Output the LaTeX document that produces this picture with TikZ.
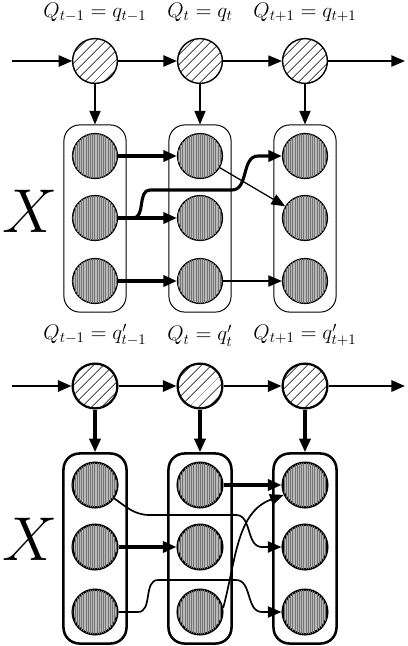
\RequirePackage{fix-cm}
\documentclass[tikz,border=0pt]{standalone}
\usepackage{tikz}
\usetikzlibrary{positioning,arrows.meta,fit,patterns.meta}
\tikzset{
    qnode/.style={
        circle, draw, line width=1pt, minimum size=11.2mm, inner sep=0pt,
        preaction={fill=white},
        pattern={Lines[angle=45,distance=1.9mm,line width=0.5pt]}
    },
    hidnode/.style={
        circle, draw, line width=1pt, minimum size=11.2mm, inner sep=0pt,
        fill=gray!55,
        postaction={pattern={Lines[angle=90,distance=0.55mm,line width=0.25pt]}, pattern color=black!55}
    },
    colbox/.style={draw, rounded corners=4mm, inner sep=2mm, line width=0.7pt},
    qlabel/.style={inner sep=0pt, font=\fontsize{15}{17}\selectfont},
    biglabel/.style={inner sep=0pt, font=\fontsize{44}{44}\selectfont},
    chainarr/.style={-{Triangle[length=3.4mm,width=2.8mm]}, line width=1.2pt},
    thickarr/.style={-{Triangle[length=3.4mm,width=2.8mm]}, line width=2.2pt},
    thinarr/.style={-{Triangle[length=3.4mm,width=2.8mm]}, line width=0.9pt},
}

\begin{document}
\begin{tikzpicture}[x=0.25mm, y=-0.25mm]
    \useasboundingbox (0,0) rectangle (408,646);

    % upper state chain
    \node[qnode] (qa) at (95,61) {};
    \node[qnode] (qb) at (200,61) {};
    \node[qnode] (qc) at (305,61) {};
    \node[qlabel, above=4mm of qa] (la) {$Q_{t-1} = q_{t-1}$};
    \node[qlabel, above=4mm of qb] (lb) {$Q_{t} = q_{t}$};
    \node[qlabel, above=4mm of qc] (lc) {$Q_{t+1} = q_{t+1}$};
    \coordinate (ina) at (12,61);
    \coordinate (outa) at (405,61);
    \draw[chainarr, line width=1.5pt] (ina) -- (qa);
    \draw[chainarr, line width=1.5pt] (qa) -- (qb);
    \draw[chainarr, line width=0.8pt] (qb) -- (qc);
    \draw[chainarr] (qc) -- (outa);

    % upper hidden columns
    \foreach \c/\x in {1/95,2/200,3/305} {
        \node[hidnode] (a\c1) at (\x,156) {};
        \node[hidnode] (a\c2) at (\x,218) {};
        \node[hidnode] (a\c3) at (\x,281) {};
        \node[colbox, fit=(a\c1)(a\c3)] (ba\c) {};
    }
    \node[biglabel] (xa) at (30,211) {$X$};
    \draw[thinarr] (qa) -- (ba1);
    \draw[thinarr] (qb) -- (ba2);
    \draw[thinarr] (qc) -- (ba3);

    \draw[thickarr] (a11) -- (a21);
    \draw[thickarr] (a12) -- (a22);
    \draw[thickarr] (a13) -- (a23);
    \draw[thickarr] (a12.east) -- (133,218) to[out=0,in=180] (150,190) -- (232,190)
        to[out=0,in=180] (258,156) -- (a31.west);
    \draw[thinarr] (a21) -- (a32);
    \draw[thinarr] (a23) -- (a33);

    % lower state chain
    \node[qnode, line width=1.6pt] (qd) at (95,386) {};
    \node[qnode, line width=1.6pt] (qe) at (200,386) {};
    \node[qnode, line width=1.6pt] (qf) at (305,386) {};
    \node[qlabel, above=4mm of qd] (ld) {$Q_{t-1} = q'_{t-1}$};
    \node[qlabel, above=4mm of qe] (le) {$Q_{t} = q'_{t}$};
    \node[qlabel, above=4mm of qf] (lf) {$Q_{t+1} = q'_{t+1}$};
    \coordinate (inb) at (12,386);
    \coordinate (outb) at (405,386);
    \draw[chainarr, line width=1.8pt] (inb) -- (qd);
    \draw[chainarr, line width=1.8pt] (qd) -- (qe);
    \draw[chainarr, line width=1.8pt] (qe) -- (qf);
    \draw[chainarr, line width=1.8pt] (qf) -- (outb);

    % lower hidden columns
    \foreach \c/\x in {1/95,2/200,3/305} {
        \node[hidnode, line width=1.6pt] (b\c1) at (\x,485) {};
        \node[hidnode, line width=1.6pt] (b\c2) at (\x,547) {};
        \node[hidnode, line width=1.6pt] (b\c3) at (\x,612) {};
        \node[colbox, line width=1.8pt, fit=(b\c1)(b\c3)] (bb\c) {};
    }
    \node[biglabel] (xb) at (30,539) {$X$};
    \draw[thickarr] (qd) -- (bb1);
    \draw[thickarr] (qe) -- (bb2);
    \draw[thickarr] (qf) -- (bb3);

    \draw[thickarr] (b21) -- (b31);
    \draw[thickarr] (b12) -- (b22);
    \draw[thinarr, line width=1.2pt] (b11.-35) to[out=-35,in=180] (150,515) -- (236,515)
        to[out=0,in=180] (262,547) -- (b32.west);
    \draw[thinarr, line width=1.2pt] (b13.east) -- (138,612) to[out=0,in=180] (158,580) -- (236,580)
        to[out=0,in=180] (262,612) -- (b33.west);
    \draw[thinarr, line width=1.2pt] (b23.10) to[out=75,in=200] (b31.205);
\end{tikzpicture}
\end{document}
